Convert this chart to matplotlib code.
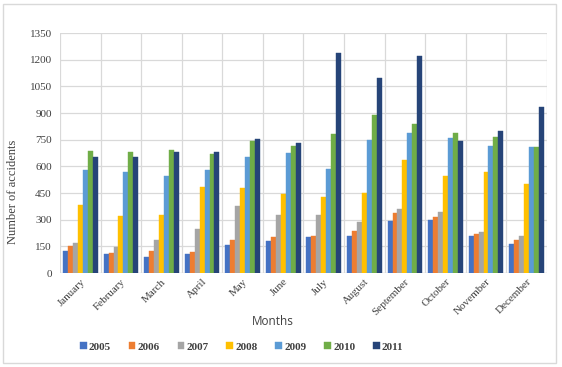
import matplotlib
matplotlib.use("Agg")
import matplotlib.pyplot as plt
import numpy as np
from matplotlib.patches import Rectangle

months = ["January", "February", "March", "April", "May", "June", "July",
          "August", "September", "October", "November", "December"]
years = ["2005", "2006", "2007", "2008", "2009", "2010", "2011"]
v2005 = [125, 105, 90, 108, 160, 180, 205, 210, 290, 300, 210, 162]
v2006 = [150, 113, 125, 120, 185, 200, 210, 235, 340, 318, 222, 185]
v2007 = [170, 145, 185, 245, 377, 325, 325, 285, 360, 345, 232, 210]
v2008 = [380, 320, 325, 485, 477, 445, 425, 450, 635, 545, 567, 500]
v2009 = [580, 570, 545, 577, 655, 675, 585, 750, 790, 760, 717, 708]
v2010 = [685, 680, 690, 670, 740, 715, 780, 890, 840, 785, 765, 710]
v2011 = [650, 650, 680, 682, 752, 730, 1235, 1095, 1220, 745, 797, 935]
series = [v2005, v2006, v2007, v2008, v2009, v2010, v2011]
colors = ["#4472C4", "#ED7D31", "#A5A5A5", "#FFC000", "#5B9BD5", "#70AD47", "#264478"]
yticks = [0, 150, 300, 450, 600, 750, 900, 1050, 1200, 1350]

fig = plt.figure(figsize=(5.62, 3.67), dpi=100)
fig.patches.append(Rectangle((0.006, 0.012), 0.984, 0.978, transform=fig.transFigure,
                             fill=False, edgecolor="#d9d9d9", linewidth=1.0))
ax = fig.add_axes([0.107, 0.256, 0.866, 0.654])

x = np.arange(len(months))
w = 0.122
for i, (vals, c, yr) in enumerate(zip(series, colors, years)):
    ax.bar(x + (i - 3) * w, vals, width=w, color=c, label=yr, zorder=3,
           edgecolor=c, linewidth=0.3)

ax.set_xlim(-0.5, 11.5)
ax.set_ylim(0, 1350)
ax.set_yticks(yticks)
ax.set_yticklabels([str(t) for t in yticks], family="Liberation Serif", fontsize=8, color="#404040")
ax.set_xticks(x)
ax.set_xticklabels(months, rotation=45, ha="right", rotation_mode="anchor",
                   family="Liberation Serif", fontsize=8, color="#404040")
ax.set_xticks(np.arange(-0.5, 12, 1), minor=True)
ax.tick_params(axis="both", which="both", length=0)
ax.tick_params(axis="y", pad=6)
ax.tick_params(axis="x", pad=3)
ax.grid(axis="y", which="major", color="#d9d9d9", linewidth=0.9, zorder=0)
ax.grid(axis="x", which="minor", color="#d9d9d9", linewidth=0.9, zorder=0)
ax.grid(axis="x", which="major", visible=False)
for s in ax.spines.values():
    s.set_visible(False)
ax.axhline(0, color="#d9d9d9", linewidth=0.9, zorder=1)

ax.set_ylabel("Number of accidents", family="Liberation Serif", fontsize=9, color="#404040")
ax.yaxis.set_label_coords(-0.085, 0.34)
fig.text(0.485, 0.125, "Months", family="Open Sans", fontsize=8.5, color="#404040", ha="center", va="center")

leg = fig.legend(loc="center", bbox_to_anchor=(0.43, 0.055), ncol=7, frameon=False,
                 prop={"family": "Liberation Serif", "weight": "bold", "size": 8},
                 handlelength=0.6, handleheight=0.6, handletextpad=0.2, columnspacing=1.6)
for t in leg.get_texts():
    t.set_color("#404040")

fig.savefig("out.png", dpi=100)
